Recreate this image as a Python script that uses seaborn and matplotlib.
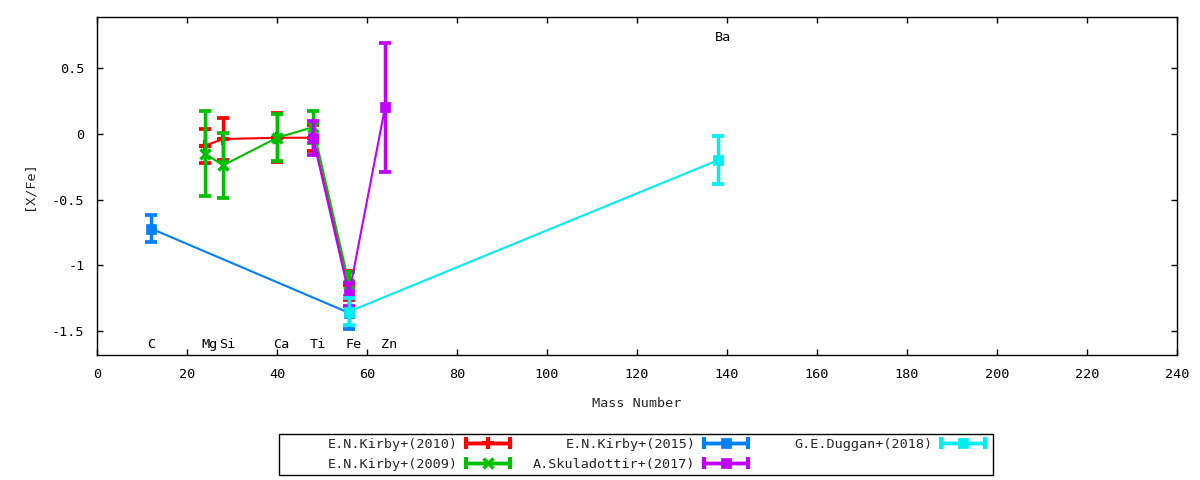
import numpy as np
import pandas as pd
import matplotlib
matplotlib.use("Agg")
import matplotlib.pyplot as plt
import seaborn as sns
from matplotlib.container import ErrorbarContainer
from matplotlib.lines import Line2D
from matplotlib.collections import LineCollection
from matplotlib.legend_handler import HandlerErrorbar
from matplotlib.patches import Rectangle

# ---------------- data ----------------
elements = ["C", "Mg", "Si", "Ca", "Ti", "Fe", "Zn", "Ba"]
element_mass = [12, 24, 28, 40, 48, 56, 64, 138]

kirby2010_x = [24, 28, 40, 48, 56]
kirby2010_y = [-0.09, -0.04, -0.03, -0.03, -1.15]
kirby2010_err = [0.13, 0.16, 0.185, 0.10, 0.11]

kirby2009_x = [24, 28, 40, 48, 56]
kirby2009_y = [-0.15, -0.24, -0.03, 0.05, -1.14]
kirby2009_err = [0.32, 0.245, 0.18, 0.12, 0.09]

kirby2015_x = [12, 56]
kirby2015_y = [-0.72, -1.36]
kirby2015_err = [0.10, 0.12]

skul2017_x = [48, 56, 64]
skul2017_y = [-0.03, -1.22, 0.20]
skul2017_err = [0.13, 0.09, 0.49]

duggan2018_x = [56, 138]
duggan2018_y = [-1.35, -0.20]
duggan2018_err = [0.10, 0.18]

series_names = ["E.N.Kirby+(2010)", "E.N.Kirby+(2009)", "E.N.Kirby+(2015)",
                "A.Skuladottir+(2017)", "G.E.Duggan+(2018)"]
x_ticks = [0, 20, 40, 60, 80, 100, 120, 140, 160, 180, 200, 220, 240]
y_ticks = [-1.5, -1, -0.5, 0, 0.5]
y_tick_labels = ["-1.5", "-1", "-0.5", "0", "0.5"]

# ---------------- style ----------------
sns.set_theme(style="ticks")
plt.rcParams["font.family"] = ["DejaVu Sans Mono", "DejaVu Sans"]
FS = 9.7
plt.rcParams["font.size"] = FS

colors = ["#ff0000", "#00c000", "#0080ff", "#c000ff", "#00eeee"]
markers = ["+", "x", "s", "s", "s"]
msizes = [8, 7, 7, 7, 7]
mews = [3, 2.5, 0.5, 0.5, 0.5]

frames = []
for name, xs, ys, es in [
    (series_names[0], kirby2010_x, kirby2010_y, kirby2010_err),
    (series_names[1], kirby2009_x, kirby2009_y, kirby2009_err),
    (series_names[2], kirby2015_x, kirby2015_y, kirby2015_err),
    (series_names[3], skul2017_x, skul2017_y, skul2017_err),
    (series_names[4], duggan2018_x, duggan2018_y, duggan2018_err),
]:
    frames.append(pd.DataFrame({"mass": xs, "xfe": ys, "err": es, "source": name}))
df = pd.concat(frames, ignore_index=True)

fig = plt.figure(figsize=(12, 4.8), dpi=100)
ax = fig.add_axes([97 / 1200, 1 - 355 / 480, 1080 / 1200, 338 / 480])

for i, name in enumerate(series_names):
    sub = df[df["source"] == name]
    sns.lineplot(data=sub, x="mass", y="xfe", ax=ax, color=colors[i], lw=1.5,
                 sort=False, estimator=None, legend=False, zorder=2 + i * 0.1)
    ax.errorbar(sub["mass"], sub["xfe"], yerr=sub["err"], fmt="none",
                ecolor=colors[i], elinewidth=2.5, capsize=4, capthick=2.7,
                zorder=2 + i * 0.1)
    ax.plot(sub["mass"], sub["xfe"], ls="none", marker=markers[i],
            ms=msizes[i], mew=mews[i], color=colors[i], mec=colors[i],
            zorder=2.05 + i * 0.1)

# element labels
for el, m in zip(elements, element_mass):
    ypos = 0.73 if el == "Ba" else -1.6
    ax.text(m - 0.8, ypos, el, ha="left", va="center", fontsize=FS, color="black")

ax.set_xlim(0, 240)
ax.set_ylim(-1.68, 0.887)
ax.set_xticks(x_ticks)
ax.set_yticks(y_ticks)
ax.set_yticklabels(y_tick_labels)
ax.tick_params(direction="in", length=4, width=1, top=True, right=True,
               pad=9, labelsize=FS, colors="black")
for s in ax.spines.values():
    s.set_color("black")
    s.set_linewidth(1)
ax.set_xlabel("Mass Number", fontsize=FS)
ax.set_ylabel("[X/Fe]", fontsize=FS)
ax.xaxis.set_label_coords(0.5, -0.125)
ax.yaxis.set_label_coords(-0.057, 0.5)

# legend (gnuplot-like, text before sample, three columns)
def make_handle(i):
    line = Line2D([], [], color=colors[i], lw=2.5, marker=markers[i],
                  ms=msizes[i], mew=mews[i] if markers[i] != "s" else 0.5,
                  mec=colors[i])
    cap = Line2D([], [], color=colors[i], lw=0, marker="|", ms=8, mew=3)
    bar = LineCollection([], colors=colors[i], linewidths=2.5)
    return ErrorbarContainer((line, (cap, cap), [bar]), has_xerr=True,
                             has_yerr=False, label=series_names[i])

handles = [make_handle(i) for i in range(5)]
columns = [([0, 1], 517), ([2, 3], 755), ([4], 992)]
for idx, xend in columns:
    fig.legend([handles[k] for k in idx], [series_names[k] for k in idx],
               loc="upper right", bbox_to_anchor=(xend / 1200, 1 - 431 / 480),
               frameon=False, borderpad=0, markerfirst=False, handlelength=3.3,
               handletextpad=0.6, labelspacing=0.55, fontsize=FS,
               handler_map={ErrorbarContainer: HandlerErrorbar(xerr_size=1.6)})

fig.patches.append(Rectangle((279 / 1200, 5 / 480), 714 / 1200, 41 / 480,
                             transform=fig.transFigure, fill=False,
                             edgecolor="black", lw=1))

fig.savefig("out.png", dpi=100, facecolor="white")
